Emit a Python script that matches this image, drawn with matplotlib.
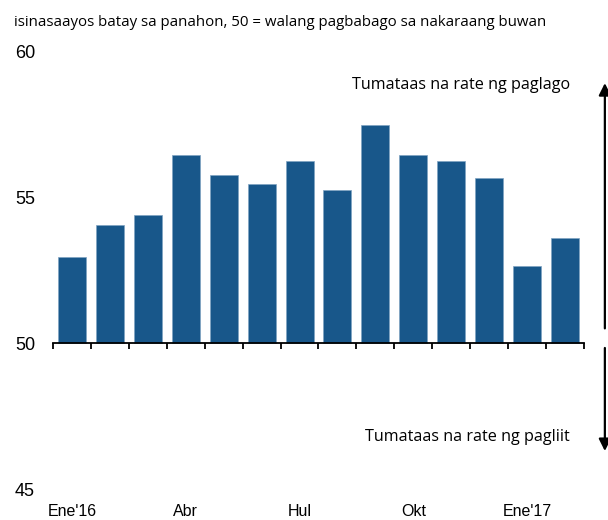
import matplotlib.pyplot as plt
import numpy as np

months = ["Ene'16", "Peb", "Mar", "Abr", "May", "Hun", "Hul", "Ago",
          "Set", "Okt", "Nob", "Dis", "Ene'17", "Peb'17"]
values = [52.95, 54.05, 54.4, 56.45, 55.75, 55.45, 56.25, 55.25,
          57.45, 56.45, 56.25, 55.65, 52.65, 53.6]
label_idx = [0, 3, 6, 9, 12]
yticks = [45, 50, 55, 60]

subtitle = 'isinasaayos batay sa panahon, 50 = walang pagbabago sa nakaraang buwan'
up_text = 'Tumataas na rate ng paglago'
down_text = 'Tumataas na rate ng pagliit'

fig = plt.figure(figsize=(6.08, 5.2), dpi=100)
ax = fig.add_axes([53/608, 31/520, 531/608, 438/520])

x = np.arange(len(values))
bottom = 50
ax.bar(x, np.array(values) - bottom, bottom=bottom, width=0.74,
       color='#18578A', edgecolor='#7fa3c2', linewidth=0.5)

ax.set_xlim(-0.5, len(values) - 0.5)
ax.set_ylim(45, 60)

for s in ['top', 'right', 'left']:
    ax.spines[s].set_visible(False)
ax.spines['bottom'].set_position(('data', 50))
ax.spines['bottom'].set_linewidth(1.3)

ax.set_xticks(np.arange(-0.5, len(values), 1.0))
ax.set_xticklabels([])
ax.tick_params(axis='x', direction='out', length=4, width=1.3)

ax.set_yticks(yticks)
ax.set_yticklabels([str(t) for t in yticks], family='Liberation Sans', fontsize=13)
ax.tick_params(axis='y', length=0, pad=13)

sec = ax.secondary_xaxis(0)
sec.set_xticks(x[label_idx])
sec.set_xticklabels([months[i] for i in label_idx], family='Liberation Sans', fontsize=11.5)
sec.tick_params(length=0, pad=11)
sec.spines['bottom'].set_visible(False)

fig.text(14/608, 1 - 22/520, subtitle, family='Open Sans', fontsize=10.8, va='center', ha='left')
fig.text(570/608, 1 - 85/520, up_text, family='Open Sans', fontsize=11.6, va='center', ha='right')
fig.text(570/608, 1 - 437/520, down_text, family='Open Sans', fontsize=11.6, va='center', ha='right')

ax.annotate('', xy=(14.05, 58.9), xytext=(14.05, 50.5), annotation_clip=False,
            arrowprops=dict(arrowstyle='-|>', color='black', lw=1.6,
                            mutation_scale=18, shrinkA=0, shrinkB=0))
ax.annotate('', xy=(14.05, 46.3), xytext=(14.05, 49.83), annotation_clip=False,
            arrowprops=dict(arrowstyle='-|>', color='black', lw=1.6,
                            mutation_scale=18, shrinkA=0, shrinkB=0))

fig.savefig('out.png', dpi=100)
